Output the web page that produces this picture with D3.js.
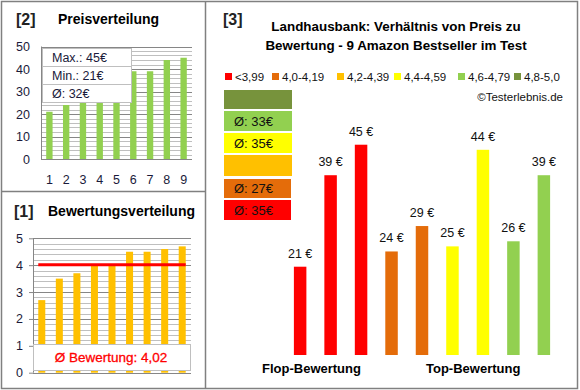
<!DOCTYPE html>
<html><head><meta charset="utf-8">
<script src="https://cdn.jsdelivr.net/npm/d3@7"></script>
<style>body{margin:0;background:#fff}svg{display:block}text{font-family:"Liberation Sans",Arial,sans-serif}</style>
</head><body>
<script>
// ---- data ----
const priceIdx = ["1","2","3","4","5","6","7","8","9"];
const priceVals = [21,24,25,26,29,39,39,44,45];
const priceTicks = [0,10,20,30,40,50];
const priceInfo = ["Max.: 45€","Min.: 21€","Ø: 32€"];

const ratingIdx = ["1","2","3","4","5","6","7","8","9"];
const ratingVals = [2.7,3.5,3.7,4.0,4.0,4.5,4.5,4.6,4.7];
const ratingTicks = [0,1,2,3,4,5];
const ratingAvg = 4.02;
const ratingAvgLabel = "Ø Bewertung: 4,02";

const mainPrices = [21,39,45,24,29,25,44,26,39];
const mainLabels = ["21 €","39 €","45 €","24 €","29 €","25 €","44 €","26 €","39 €"];
const mainGroup = [0,0,0,1,1,3,3,4,4];
const legendLabels = ["<3,99","4,0-4,19","4,2-4,39","4,4-4,59","4,6-4,79","4,8-5,0"];
const groupColors = ["#FF0000","#E46C0A","#FFC000","#FFFF00","#92D050","#77933C"];
const groupAvgLabels = ["Ø: 35€","Ø: 27€","","Ø: 35€","Ø: 33€",""];

const svg = d3.select("body").append("svg").attr("width",580).attr("height",390);

// frames
svg.append("rect").attr("x",1.5).attr("y",1.5).attr("width",576).attr("height",387)
  .attr("fill","none").attr("stroke","#808080").attr("stroke-width",1.5);
svg.append("line").attr("x1",205.5).attr("x2",205.5).attr("y1",1).attr("y2",389).attr("stroke","#808080").attr("stroke-width",1.5);
svg.append("line").attr("x1",1).attr("x2",205.5).attr("y1",191.5).attr("y2",191.5).attr("stroke","#808080").attr("stroke-width",1.5);

// ===== Panel [2] Preisverteilung =====
svg.append("text").attr("x",16).attr("y",25).attr("font-size",16).attr("font-weight","bold").attr("fill","#222").text("[2]");
svg.append("text").attr("x",58).attr("y",24).attr("font-size",14).attr("font-weight","bold").text("Preisverteilung");

const px = d3.scaleBand().domain(priceIdx).range([41,192]).paddingInner(0.62).paddingOuter(0.31);
const py = d3.scaleLinear().domain([0,50]).range([159,46.5]);
const pg = svg.append("g");
pg.selectAll("line.mi").data(d3.range(0,50.01,2)).join("line")
  .attr("x1",41).attr("x2",192).attr("y1",d=>Math.round(py(d))+0.5).attr("y2",d=>Math.round(py(d))+0.5)
  .attr("stroke",d=>d%10===0?"#868686":"#bfbfbf").attr("stroke-width",1);
pg.append("line").attr("x1",41.5).attr("x2",41.5).attr("y1",py(50)).attr("y2",py(0)).attr("stroke","#868686");
pg.selectAll("rect.bar").data(priceVals).join("rect")
  .attr("x",(d,i)=>px(priceIdx[i])).attr("width",px.bandwidth())
  .attr("y",d=>py(d)).attr("height",d=>py(0)-py(d)).attr("fill","#92D050");
const pyAxis = d3.axisLeft(py).tickValues(priceTicks).tickSize(0).tickPadding(11);
const pya = svg.append("g").attr("transform","translate(41,0)").call(pyAxis);
pya.select(".domain").remove();
pya.selectAll("text").attr("font-size",12.5).attr("fill","#1a1a3a").style("font-family","Liberation Sans, Arial");
const pxAxis = d3.axisBottom(px).tickSize(0).tickPadding(16);
const pxa = svg.append("g").attr("transform","translate(0,159)").call(pxAxis);
pxa.select(".domain").remove();
pxa.selectAll("text").attr("font-size",12.5).attr("fill","#1a1a3a").style("font-family","Liberation Sans, Arial");
// info box
const ib = svg.append("g");
ib.append("rect").attr("x",42.5).attr("y",48.5).attr("width",89).attr("height",54).attr("fill","#fff").attr("stroke","#bfbfbf");
[66.5,84.5].forEach(y=>ib.append("line").attr("x1",42.5).attr("x2",131.5).attr("y1",y).attr("y2",y).attr("stroke","#bfbfbf"));
ib.selectAll("text").data(priceInfo).join("text").attr("x",52).attr("y",(d,i)=>62+i*18)
  .attr("font-size",12.5).attr("fill","#1a1a3a").text(d=>d);

// ===== Panel [1] Bewertungsverteilung =====
svg.append("text").attr("x",14).attr("y",217).attr("font-size",16).attr("font-weight","bold").attr("fill","#222").text("[1]");
svg.append("text").attr("x",48).attr("y",216).attr("font-size",14).attr("font-weight","bold").text("Bewertungsverteilung");

const rx = d3.scaleBand().domain(ratingIdx).range([33,191]).paddingInner(0.6).paddingOuter(0.3);
const ry = d3.scaleLinear().domain([0,5]).range([372.7,238.3]);
const rg = svg.append("g");
rg.selectAll("line").data(d3.range(0,5.001,0.2)).join("line")
  .attr("x1",33).attr("x2",191).attr("y1",d=>Math.round(ry(d))+0.5).attr("y2",d=>Math.round(ry(d))+0.5)
  .attr("stroke",d=>Math.abs(d-Math.round(d))<1e-6?"#868686":"#bfbfbf");
rg.append("line").attr("x1",33.5).attr("x2",33.5).attr("y1",ry(5)).attr("y2",ry(0)).attr("stroke","#868686");
rg.selectAll("rect").data(ratingVals).join("rect")
  .attr("x",(d,i)=>rx(ratingIdx[i])).attr("width",rx.bandwidth())
  .attr("y",d=>ry(d)).attr("height",d=>ry(0)-ry(d)).attr("fill","#FFC000");
const ryAxis = d3.axisLeft(ry).tickValues(ratingTicks).tickFormat(d3.format("d")).tickSize(4).tickPadding(6);
const rya = svg.append("g").attr("transform","translate(33,0)").call(ryAxis);
rya.select(".domain").remove();
rya.selectAll("line").attr("stroke","#868686");
rya.selectAll("text").attr("font-size",12.5).attr("fill","#1a1a3a").style("font-family","Liberation Sans, Arial");
// avg line
svg.append("line").attr("x1",rx(ratingIdx[0])).attr("x2",rx(ratingIdx[8])+rx.bandwidth())
  .attr("y1",ry(ratingAvg)).attr("y2",ry(ratingAvg)).attr("stroke","#FF0000").attr("stroke-width",3);
// avg box
svg.append("rect").attr("x",33.5).attr("y",344.5).attr("width",157).attr("height",26).attr("fill","#fff").attr("stroke","#bfbfbf");
svg.append("text").attr("x",111).attr("y",362).attr("text-anchor","middle").attr("font-size",13.5)
  .attr("fill","#FF0000").attr("stroke","#FF0000").attr("stroke-width",0.3).text(ratingAvgLabel);

// ===== Panel [3] =====
svg.append("text").attr("x",223).attr("y",25).attr("font-size",16).attr("font-weight","bold").attr("fill","#222").text("[3]");
svg.append("text").attr("x",396).attr("y",31).attr("text-anchor","middle").attr("font-size",13.4).attr("font-weight","bold")
  .text("Landhausbank: Verhältnis von Preis zu");
svg.append("text").attr("x",396).attr("y",50).attr("text-anchor","middle").attr("font-size",13.4).attr("font-weight","bold")
  .text("Bewertung - 9 Amazon Bestseller im Test");

// legend
const legX = [225,272,337,394,458,514];
const lg = svg.append("g");
legendLabels.forEach((l,i)=>{
  lg.append("rect").attr("x",legX[i]).attr("y",73).attr("width",7).attr("height",7).attr("fill",groupColors[i]);
  lg.append("text").attr("x",legX[i]+10).attr("y",81).attr("font-size",11.5).attr("fill","#111").text(l);
});
svg.append("text").attr("x",563).attr("y",101).attr("text-anchor","end").attr("font-size",11.5).attr("fill","#111").text("©Testerlebnis.de");

// group boxes (stacked, bottom = red)
const boxY = [200,179,155,133,111,90];
const boxH = [20,19,21,20,20,19];
const boxW = [67,67,68,68,68,68];
const bg = svg.append("g");
groupColors.forEach((c,i)=>{
  bg.append("rect").attr("x",224).attr("y",boxY[i]).attr("width",boxW[i]).attr("height",boxH[i]).attr("fill",c);
  if(groupAvgLabels[i]) bg.append("text").attr("x",234).attr("y",boxY[i]+boxH[i]/2+4.5).attr("font-size",13).attr("fill","#111").text(groupAvgLabels[i]);
});

// main bars
const mx = d3.scaleBand().domain(d3.range(mainPrices.length)).range([284.75,559.25]).paddingInner(0.59).paddingOuter(0.3);
const my = d3.scaleLinear().domain([3.63,50]).range([355,119.3]);
const mg = svg.append("g");
mg.selectAll("rect").data(mainPrices).join("rect")
  .attr("x",(d,i)=>mx(i)).attr("width",mx.bandwidth()).attr("y",d=>my(d)).attr("height",d=>my(3.63)-my(d))
  .attr("fill",(d,i)=>groupColors[mainGroup[i]]);
mg.selectAll("text").data(mainLabels).join("text")
  .attr("x",(d,i)=>mx(i)+mx.bandwidth()/2).attr("y",(d,i)=>my(mainPrices[i])-9)
  .attr("text-anchor","middle").attr("font-size",12.5).attr("fill","#111").text(d=>d);

svg.append("text").attr("x",262).attr("y",373).attr("font-size",13).attr("font-weight","bold").text("Flop-Bewertung");
svg.append("text").attr("x",426).attr("y",373).attr("font-size",13).attr("font-weight","bold").text("Top-Bewertung");
</script>
</body></html>
